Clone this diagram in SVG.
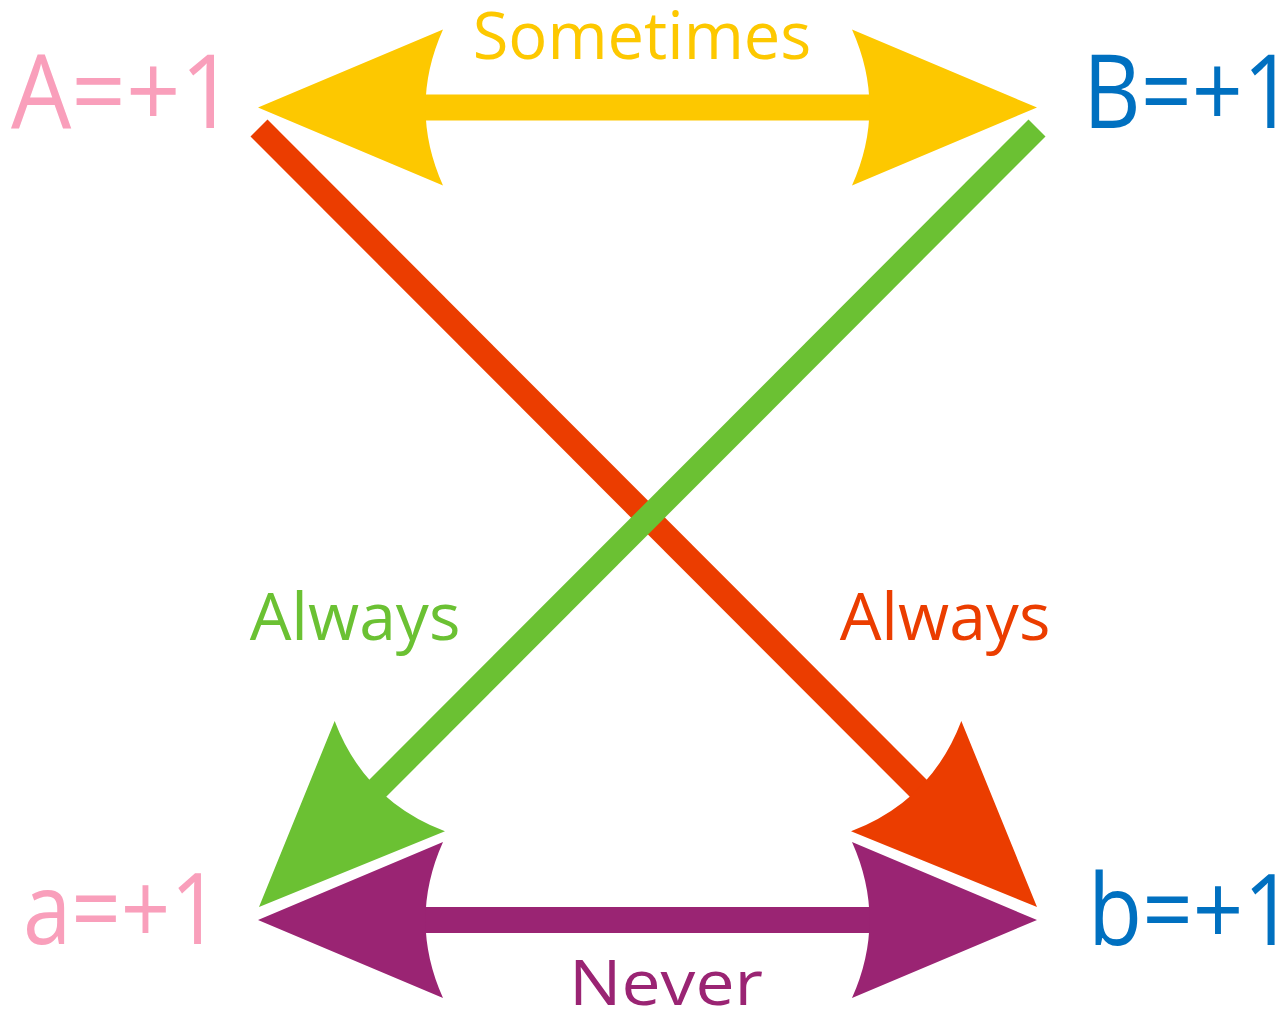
<svg xmlns="http://www.w3.org/2000/svg" xmlns:xlink="http://www.w3.org/1999/xlink" width="1287" height="1012" viewBox="0 0 1287 1012">
<style>
text{font-family:"Open Sans","Liberation Sans",sans-serif;}
.pink{fill:#F99FBB}.blue{fill:#0070C0}
.shaft{fill:none;stroke-linecap:butt}
</style>
<defs>
<path id="head" d="M0,0 L-185,-78 Q-150,0 -185,78 Z"/>
</defs>
<rect width="1287" height="1012" fill="#ffffff"/>
<g id="connectors">
<g id="sometimes" fill="#FDC800">
<line class="shaft" x1="408" y1="107.5" x2="887" y2="107.5" stroke="#FDC800" stroke-width="26"/>
<use xlink:href="#head" transform="translate(258,107.5) rotate(180)"/>
<use xlink:href="#head" transform="translate(1037,107.5)"/>
<text x="642" y="59" font-size="65" text-anchor="middle">Sometimes</text>
</g>
<g id="never" fill="#9A2473">
<line class="shaft" x1="408" y1="920" x2="887" y2="920" stroke="#9A2473" stroke-width="26"/>
<use xlink:href="#head" transform="translate(258,920) rotate(180)"/>
<use xlink:href="#head" transform="translate(1037,920)"/>
<text x="569" y="1005" font-size="62" textLength="194" lengthAdjust="spacingAndGlyphs">Never</text>
</g>
<g id="always-red" fill="#EB3D00">
<line class="shaft" x1="259" y1="128" x2="931" y2="801" stroke="#EB3D00" stroke-width="24"/>
<use xlink:href="#head" transform="translate(1037,907) rotate(45)"/>
<text x="945" y="640" font-size="66" text-anchor="middle">Always</text>
</g>
<g id="always-green" fill="#6BC133">
<line class="shaft" x1="1037" y1="128" x2="365" y2="801" stroke="#6BC133" stroke-width="24"/>
<use xlink:href="#head" transform="translate(259,907) rotate(135)"/>
<text x="355" y="640" font-size="66" text-anchor="middle">Always</text>
</g>
</g>
<g id="node-A"><text class="pink" x="11" y="128" font-size="102" textLength="224" lengthAdjust="spacingAndGlyphs">A=+1</text></g>
<g id="node-B"><text class="blue" x="1083" y="128" font-size="102" textLength="211" lengthAdjust="spacingAndGlyphs">B=+1</text></g>
<g id="node-a"><text class="pink" x="23" y="944" font-size="98" textLength="197" lengthAdjust="spacingAndGlyphs">a=+1</text></g>
<g id="node-b"><text class="blue" x="1088" y="945" font-size="98" textLength="206" lengthAdjust="spacingAndGlyphs">b=+1</text></g>
</svg>
